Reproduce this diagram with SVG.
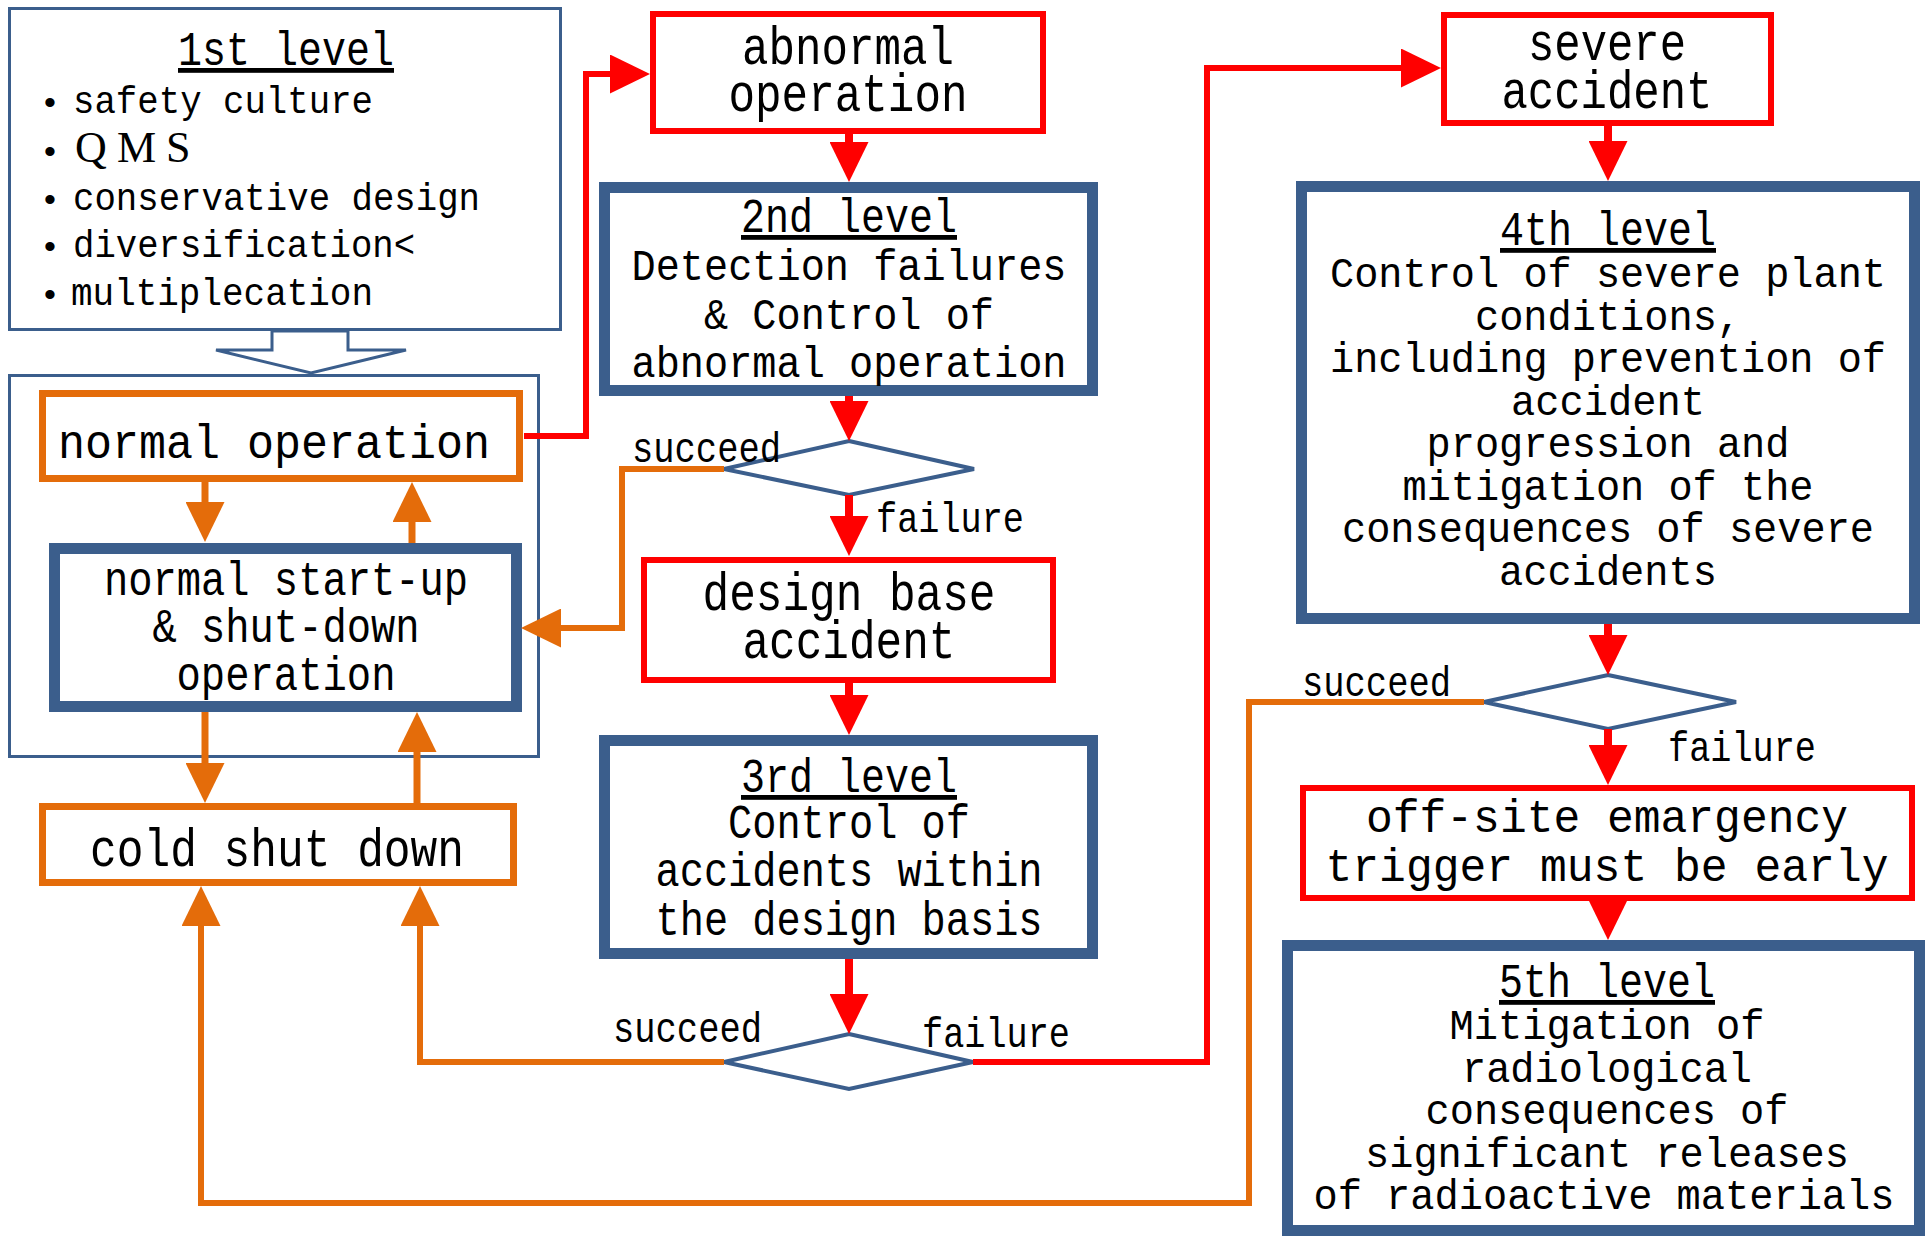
<svg xmlns="http://www.w3.org/2000/svg" width="1931" height="1239" viewBox="0 0 1931 1239">
<defs>
<style>
.t{font-family:"Liberation Mono","DejaVu Sans Mono",monospace;fill:#000}
.c{text-anchor:middle}
.u{text-decoration:underline}
.s38{font-size:38px}
.s42{font-size:42px}
.s43{font-size:43px}
.s44{font-size:44px}
.s47{font-size:47px}
.s48{font-size:48px}
.s53{font-size:53px}
.bul{font-family:"Liberation Sans",Arial,sans-serif;font-size:34px;text-anchor:middle;fill:#000}
.thin{fill:#fff;stroke:#3B5E8C;stroke-width:3}
.blue{fill:#fff;stroke:#3B5E8C;stroke-width:11}
.red{fill:#fff;stroke:#FF0000;stroke-width:6}
.org{fill:#fff;stroke:#E46C0A;stroke-width:7}
.dia{fill:#fff;stroke:#3B5E8C;stroke-width:4}
.lr{fill:none;stroke:#FF0000;stroke-width:6}
.lr7{fill:none;stroke:#FF0000;stroke-width:8}
.lo{fill:none;stroke:#E46C0A;stroke-width:6}
.lo7{fill:none;stroke:#E46C0A;stroke-width:7}
</style>
<marker id="ar" markerUnits="userSpaceOnUse" markerWidth="40" markerHeight="39" viewBox="0 0 40 39" refX="8" refY="19.5" orient="auto"><path d="M0,0 L40,19.5 L0,39 z" fill="#FF0000"/></marker>
<marker id="ao" markerUnits="userSpaceOnUse" markerWidth="40" markerHeight="39" viewBox="0 0 40 39" refX="8" refY="19.5" orient="auto"><path d="M0,0 L40,19.5 L0,39 z" fill="#E46C0A"/></marker>
</defs>
<rect x="0" y="0" width="1931" height="1239" fill="#fff"/>

<g id="level1">
<rect class="thin" x="9.5" y="8.5" width="551" height="321"/>
<polygon class="thin" points="272,331 348,331 348,350 406,350 311,373 216,350 272,350"/>
<text class="t s48 c u" x="286" y="65" textLength="216" lengthAdjust="spacingAndGlyphs">1st level</text>
<text class="bul" x="50" y="114">•</text>
<text class="t s38" x="73" y="113" textLength="300" lengthAdjust="spacingAndGlyphs">safety culture</text>
<text class="bul" x="50" y="163">•</text>
<text font-family="'Liberation Serif',serif" font-size="44" x="75 117 166" y="162">QMS</text>
<text class="bul" x="50" y="211">•</text>
<text class="t s38" x="73" y="210" textLength="407" lengthAdjust="spacingAndGlyphs">conservative design</text>
<text class="bul" x="50" y="258">•</text>
<text class="t s38" x="73" y="257" textLength="342" lengthAdjust="spacingAndGlyphs">diversification&lt;</text>
<text class="bul" x="50" y="306">•</text>
<text class="t s38" x="71" y="305" textLength="302" lengthAdjust="spacingAndGlyphs">multiplecation</text>
</g>

<g id="operation-box">
<rect class="thin" x="9.5" y="375.5" width="529" height="381"/>
</g>

<g id="normal-operation">
<rect class="org" x="42.5" y="393.5" width="477" height="85"/>
<text class="t s48 c" x="274" y="458" textLength="432" lengthAdjust="spacingAndGlyphs">normal operation</text>
</g>

<g id="startup-shutdown">
<rect class="blue" x="54.5" y="548.5" width="462" height="158"/>
<text class="t s48 c" x="286" y="595" textLength="364" lengthAdjust="spacingAndGlyphs">normal start-up</text>
<text class="t s48 c" x="286" y="642" textLength="267" lengthAdjust="spacingAndGlyphs">&amp; shut-down</text>
<text class="t s48 c" x="286" y="690" textLength="219" lengthAdjust="spacingAndGlyphs">operation</text>
</g>

<g id="cold-shutdown">
<rect class="org" x="42.5" y="806.5" width="471" height="76"/>
<text class="t s53 c" x="277" y="866" textLength="374" lengthAdjust="spacingAndGlyphs">cold shut down</text>
</g>

<g id="abnormal-operation">
<rect class="red" x="653" y="14" width="390" height="117"/>
<text class="t s53 c" x="848" y="64" textLength="212" lengthAdjust="spacingAndGlyphs">abnormal</text>
<text class="t s53 c" x="848" y="111" textLength="239" lengthAdjust="spacingAndGlyphs">operation</text>
</g>

<g id="level2">
<rect class="blue" x="604.5" y="187.5" width="488" height="203"/>
<text class="t s48 c u" x="849" y="232" textLength="216" lengthAdjust="spacingAndGlyphs">2nd level</text>
<text class="t s44 c" x="849" y="280" textLength="435" lengthAdjust="spacingAndGlyphs">Detection failures</text>
<text class="t s44 c" x="849" y="329" textLength="290" lengthAdjust="spacingAndGlyphs">&amp; Control of</text>
<text class="t s44 c" x="849" y="377" textLength="435" lengthAdjust="spacingAndGlyphs">abnormal operation</text>
</g>

<g id="decision1">
<polygon class="dia" points="849,441 974,469 849,495 724,469"/>
</g>

<g id="design-base-accident">
<rect class="red" x="644" y="560" width="409" height="120"/>
<text class="t s53 c" x="849" y="610" textLength="293" lengthAdjust="spacingAndGlyphs">design base</text>
<text class="t s53 c" x="849" y="658" textLength="213" lengthAdjust="spacingAndGlyphs">accident</text>
</g>

<g id="level3">
<rect class="blue" x="604.5" y="740.5" width="488" height="213"/>
<text class="t s48 c u" x="849" y="792" textLength="216" lengthAdjust="spacingAndGlyphs">3rd level</text>
<text class="t s48 c" x="849" y="838" textLength="242" lengthAdjust="spacingAndGlyphs">Control of</text>
<text class="t s48 c" x="849" y="886" textLength="387" lengthAdjust="spacingAndGlyphs">accidents within</text>
<text class="t s48 c" x="849" y="935" textLength="387" lengthAdjust="spacingAndGlyphs">the design basis</text>
</g>

<g id="decision2">
<polygon class="dia" points="849,1034 973,1062 849,1089 724,1062"/>
</g>

<g id="severe-accident">
<rect class="red" x="1444" y="15" width="327" height="108"/>
<text class="t s53 c" x="1607" y="60" textLength="158" lengthAdjust="spacingAndGlyphs">severe</text>
<text class="t s53 c" x="1607" y="108" textLength="211" lengthAdjust="spacingAndGlyphs">accident</text>
</g>

<g id="level4">
<rect class="blue" x="1301.5" y="186.5" width="613" height="432"/>
<text class="t s48 c u" x="1608" y="245" textLength="216" lengthAdjust="spacingAndGlyphs">4th level</text>
<text class="t s43 c" x="1608" y="287" textLength="556" lengthAdjust="spacingAndGlyphs">Control of severe plant</text>
<text class="t s43 c" x="1608" y="330" textLength="266" lengthAdjust="spacingAndGlyphs">conditions,</text>
<text class="t s43 c" x="1608" y="372" textLength="556" lengthAdjust="spacingAndGlyphs">including prevention of</text>
<text class="t s43 c" x="1608" y="415" textLength="194" lengthAdjust="spacingAndGlyphs">accident</text>
<text class="t s43 c" x="1608" y="457" textLength="363" lengthAdjust="spacingAndGlyphs">progression and</text>
<text class="t s43 c" x="1608" y="500" textLength="411" lengthAdjust="spacingAndGlyphs">mitigation of the</text>
<text class="t s43 c" x="1608" y="542" textLength="532" lengthAdjust="spacingAndGlyphs">consequences of severe</text>
<text class="t s43 c" x="1608" y="585" textLength="218" lengthAdjust="spacingAndGlyphs">accidents</text>
</g>

<g id="decision3">
<polygon class="dia" points="1608,675 1736,702 1608,729 1484,702"/>
</g>

<g id="offsite-emergency">
<rect class="red" x="1303" y="788" width="609" height="110"/>
<text class="t s47 c" x="1607" y="832" textLength="482" lengthAdjust="spacingAndGlyphs">off-site emargency</text>
<text class="t s47 c" x="1607" y="881" textLength="563" lengthAdjust="spacingAndGlyphs">trigger must be early</text>
</g>

<g id="level5">
<rect class="blue" x="1287.5" y="945.5" width="632" height="285"/>
<text class="t s48 c u" x="1607" y="997" textLength="216" lengthAdjust="spacingAndGlyphs">5th level</text>
<text class="t s43 c" x="1607" y="1039" textLength="315" lengthAdjust="spacingAndGlyphs">Mitigation of</text>
<text class="t s43 c" x="1607" y="1082" textLength="290" lengthAdjust="spacingAndGlyphs">radiological</text>
<text class="t s43 c" x="1607" y="1124" textLength="363" lengthAdjust="spacingAndGlyphs">consequences of</text>
<text class="t s43 c" x="1607" y="1167" textLength="484" lengthAdjust="spacingAndGlyphs">significant releases</text>
<text class="t s42 c" x="1604" y="1209" textLength="581" lengthAdjust="spacingAndGlyphs">of radioactive materials</text>
</g>

<g id="connectors">
<path class="lr" d="M524,436 H586 V74 H618" marker-end="url(#ar)"/>
<path class="lr7" d="M849,134 V150" marker-end="url(#ar)"/>
<path class="lr7" d="M849,396 V409" marker-end="url(#ar)"/>
<path class="lr7" d="M849,495 V524" marker-end="url(#ar)"/>
<path class="lr7" d="M849,683 V703" marker-end="url(#ar)"/>
<path class="lr7" d="M849,959 V1002" marker-end="url(#ar)"/>
<path class="lr" d="M973,1062 H1207 V68 H1409" marker-end="url(#ar)"/>
<path class="lr7" d="M1608,126 V149" marker-end="url(#ar)"/>
<path class="lr7" d="M1608,624 V643" marker-end="url(#ar)"/>
<path class="lr7" d="M1608,729 V753" marker-end="url(#ar)"/>
<path class="lr7" d="M1608,901 V908" marker-end="url(#ar)"/>
<path class="lo7" d="M205,482 V510" marker-end="url(#ao)"/>
<path class="lo7" d="M412,543 V514" marker-end="url(#ao)"/>
<path class="lo7" d="M205,712 V771" marker-end="url(#ao)"/>
<path class="lo7" d="M417,803 V744" marker-end="url(#ao)"/>
<path class="lo" d="M724,469 H622 V628 H553" marker-end="url(#ao)"/>
<path class="lo" d="M724,1062 H420 V918" marker-end="url(#ao)"/>
<path class="lo" d="M1484,702 H1249 V1203 H201 V918" marker-end="url(#ao)"/>
<text class="t s43" x="632" y="462" textLength="149" lengthAdjust="spacingAndGlyphs">succeed</text>
<text class="t s42" x="876" y="532" textLength="148" lengthAdjust="spacingAndGlyphs">failure</text>
<text class="t s43" x="613" y="1042" textLength="149" lengthAdjust="spacingAndGlyphs">succeed</text>
<text class="t s42" x="922" y="1047" textLength="148" lengthAdjust="spacingAndGlyphs">failure</text>
<text class="t s43" x="1302" y="696" textLength="149" lengthAdjust="spacingAndGlyphs">succeed</text>
<text class="t s42" x="1668" y="761" textLength="148" lengthAdjust="spacingAndGlyphs">failure</text>
</g>
</svg>
